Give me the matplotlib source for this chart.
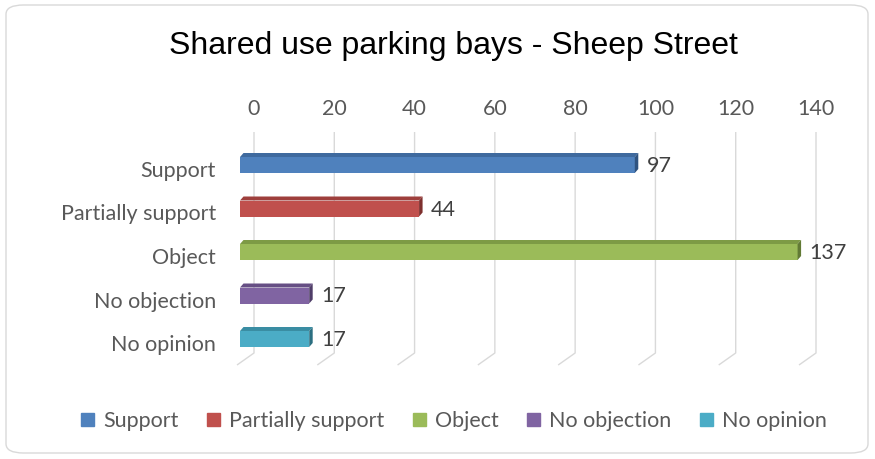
import numpy as np
import matplotlib
matplotlib.use('Agg')
import matplotlib.pyplot as plt
from matplotlib.patches import Polygon, FancyBboxPatch

categories = ['Support', 'Partially support', 'Object', 'No objection', 'No opinion']
values = [97, 44, 137, 17, 17]
colors = ['#4F81BD', '#C0504D', '#9BBB59', '#8064A2', '#4BACC6']
top_colors = ['#3F6A9E', '#9E3F3C', '#7D9A45', '#664F84', '#3A8DA3']
side_colors = ['#2F5380', '#7E302E', '#627A35', '#4F3D68', '#2C6F81']
xticks = [0, 20, 40, 60, 80, 100, 120, 140]

W, H = 875, 459
fig = plt.figure(figsize=(W / 100, H / 100), dpi=100)

# rounded chart border
border = FancyBboxPatch((6 / W, 6 / H), 862 / W, 448 / H,
                        boxstyle='round,pad=0,rounding_size=0.02',
                        transform=fig.transFigure, facecolor='none',
                        edgecolor='#D9D9D9', linewidth=1.0, zorder=-1)
fig.patches.append(border)

fig.text(453 / W, 1 - 46 / H, 'Shared use parking bays - Sheep Street',
         ha='center', va='center', fontsize=23, family='Liberation Sans',
         color='#000000')

FS = 15.5
ax_top, ax_bot = 125, 370
ax = fig.add_axes([254 / W, 1 - ax_bot / H, (816 - 254) / W, (ax_bot - ax_top) / H])
ax.set_facecolor('none')

px_x = (816 - 254) / 140.0   # pixels per data unit (x)
px_y = 43.5                  # pixels per category step
y0 = -(163 - ax_top) / px_y
y1 = 4 + (ax_bot - 337) / px_y
ax.set_xlim(0, 140)
ax.set_ylim(y1, y0)

# gridlines: back wall + floor
floor_back = 4 + (353 - 337) / px_y
floor_front = 4 + (365 - 337) / px_y
top_y = -(163 - 132) / px_y
for t in xticks:
    ax.plot([t, t, t - 17 / px_x], [top_y, floor_back, floor_front],
            color='#D9D9D9', lw=1.0, zorder=1, solid_capstyle='butt',
            clip_on=False)

ys = np.arange(len(categories))
front_left = -14 / px_x
scale = 4.07 / px_x
h = 16 / px_y
dx = 3.5 / px_x
dy = 4 / px_y
for i, (yc, v) in enumerate(zip(ys + 2 / px_y, values)):
    x1 = front_left + v * scale
    ax.barh(yc, v * scale, left=front_left, height=h, color=colors[i],
            edgecolor='none', zorder=3, clip_on=False)
    top = Polygon([[front_left, yc - h / 2], [front_left + dx, yc - h / 2 - dy],
                   [x1 + dx, yc - h / 2 - dy], [x1, yc - h / 2]],
                  closed=True, facecolor=top_colors[i], edgecolor='none',
                  zorder=3, clip_on=False)
    side = Polygon([[x1, yc - h / 2], [x1 + dx, yc - h / 2 - dy],
                    [x1 + dx, yc + h / 2 - dy], [x1, yc + h / 2]],
                   closed=True, facecolor=side_colors[i], edgecolor='none',
                   zorder=3, clip_on=False)
    ax.add_patch(top)
    ax.add_patch(side)
    ax.text(x1 + 12 / px_x, yc + 1 / px_y, str(v), ha='left', va='center',
            fontsize=FS, family='Lato', color='#404040', zorder=4)
    ax.text(front_left - 24 / px_x, ys[i] + 8 / px_y, categories[i],
            ha='right', va='center', fontsize=FS, family='Lato', color='#595959')

ax.set_yticks([])
ax.set_xticks(xticks)
ax.xaxis.tick_top()
ax.tick_params(axis='x', length=0, pad=4, labelsize=FS, labelcolor='#595959')
for lab in ax.get_xticklabels():
    lab.set_family('Lato')
for s in ax.spines.values():
    s.set_visible(False)

handles = [plt.Rectangle((0, 0), 1, 1, color=c) for c in colors]
fig.legend(handles, categories, loc='center', ncol=5,
           bbox_to_anchor=(454 / W, 1 - 421 / H), frameon=False,
           handlelength=0.6, handleheight=0.6, handletextpad=0.4,
           columnspacing=1.35, prop={'family': 'Lato', 'size': FS},
           labelcolor='#595959')

fig.savefig('out.png', dpi=100)
